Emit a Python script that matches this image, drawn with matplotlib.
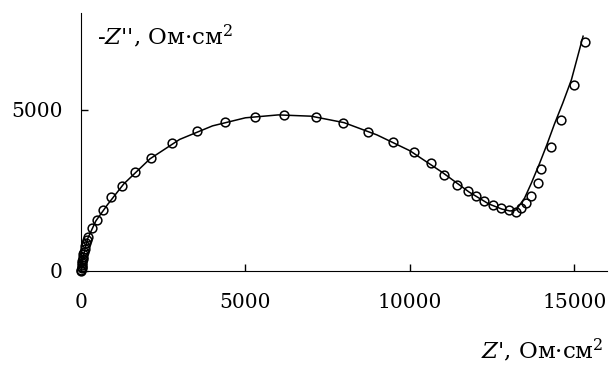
import matplotlib
matplotlib.use("Agg")
import matplotlib.pyplot as plt

# measured points (Z', -Z'')
z_re = [5, 10, 15, 20, 25, 30, 40, 50, 60, 75, 90, 110, 130, 160, 190,
        225, 325, 480, 680, 915, 1240, 1650, 2135, 2765, 3530, 4370, 5300,
        6170, 7140, 7980, 8730, 9475, 10115, 10645, 11050, 11440, 11760,
        12020, 12270, 12525, 12780, 13030, 13235, 13390, 13540, 13675,
        13900, 14000, 14305, 14610, 14980, 15320]
z_im = [10, 40, 80, 130, 180, 240, 300, 370, 440, 520, 600, 690, 780, 880, 970,
        1065, 1325, 1585, 1895, 2280, 2640, 3085, 3500, 3965, 4330, 4610, 4790,
        4845, 4790, 4590, 4310, 3985, 3675, 3345, 2980, 2670, 2465,
        2310, 2155, 2050, 1950, 1895, 1840, 1945, 2100, 2310,
        2720, 3160, 3860, 4690, 5780, 7110]

# fitted curve
fit_re = [0, 30, 80, 200, 450, 800, 1300, 2100, 3000, 4000, 5000, 6000, 7000,
          8000, 9000, 10000, 11000, 11800, 12400, 12800, 13050, 13235, 13490,
          13695, 13950, 14170, 14400, 14650, 14915, 15270]
fit_im = [0, 200, 500, 1000, 1550, 2050, 2700, 3480, 4080, 4500, 4750, 4840, 4800,
          4600, 4220, 3730, 3050, 2450, 2080, 1920, 1860, 1895, 2260,
          2720, 3345, 3920, 4560, 5200, 5930, 7280]

x_ticks = [0, 5000, 10000, 15000]
y_ticks = [0, 5000]

plt.rcParams["font.family"] = ["DejaVu Serif"]
plt.rcParams["mathtext.fontset"] = "dejavuserif"

fig = plt.figure(figsize=(6.11, 3.67), dpi=100)
ax = fig.add_axes([0.1326, 0.2616, 0.861, 0.703])

ax.plot(fit_re, fit_im, color="black", lw=1.1, clip_on=False)
ax.plot(z_re, z_im, linestyle="none", marker="o", markersize=6.3,
        markerfacecolor="none", markeredgecolor="black", markeredgewidth=1.1,
        clip_on=False)

ax.set_xlim(0, 16000)
ax.set_ylim(0, 8000)
ax.set_xticks(x_ticks)
ax.set_yticks(y_ticks)
ax.tick_params(direction="in", length=5, width=1, labelsize=14.5)
ax.tick_params(axis="x", pad=16)
ax.tick_params(axis="y", pad=13)
ax.spines["top"].set_visible(False)
ax.spines["right"].set_visible(False)

ax.text(0.03, 0.91, "-$Z$'', Ом·см$^2$", transform=ax.transAxes,
        fontsize=16.5, va="center", ha="left")
fig.text(0.987, 0.045, "$Z$', Ом·см$^2$", fontsize=16.5, ha="right", va="center")

fig.savefig("out.png", dpi=100)
